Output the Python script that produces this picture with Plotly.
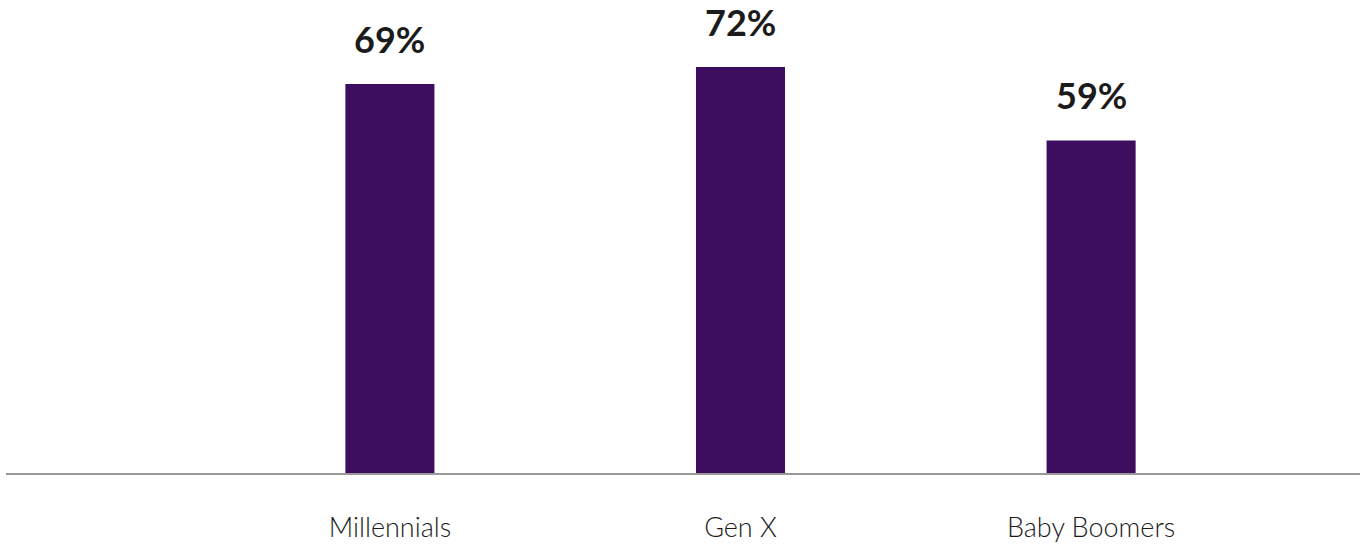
import plotly.graph_objects as go

categories = ["Millennials", "Gen X", "Baby Boomers"]
values = [69, 72, 59]
value_labels = ["69%", "72%", "59%"]

BAR_COLOR = "#3d0e5f"
TEXT_COLOR = "#1b1b1b"

fig = go.Figure(
    go.Bar(
        x=list(range(len(categories))),
        y=values,
        width=0.254,
        marker=dict(color=BAR_COLOR, line=dict(width=0)),
        hoverinfo="skip",
    )
)

for i, (v, lab) in enumerate(zip(values, value_labels)):
    fig.add_annotation(
        x=i, y=v, text=f"<b>{lab}</b>", showarrow=False,
        yanchor="bottom", yshift=21,
        font=dict(family="Lato", size=36, color=TEXT_COLOR, weight=900),
    )

fig.update_layout(
    width=1360, height=544,
    margin=dict(l=6, r=0, t=0, b=71),
    paper_bgcolor="white", plot_bgcolor="white",
    showlegend=False,
    xaxis=dict(
        range=[-1.095, 2.767],
        tickmode="array",
        tickvals=list(range(len(categories))),
        ticktext=categories,
        tickfont=dict(family="Lato", size=27, color=TEXT_COLOR, weight=300),
        ticks="", showgrid=False, zeroline=False,
        showline=True, linecolor="#999999", linewidth=2,
        ticklabelstandoff=30,
    ),
    yaxis=dict(range=[0, 83.9], visible=False),
)

fig.write_html("out.html")
